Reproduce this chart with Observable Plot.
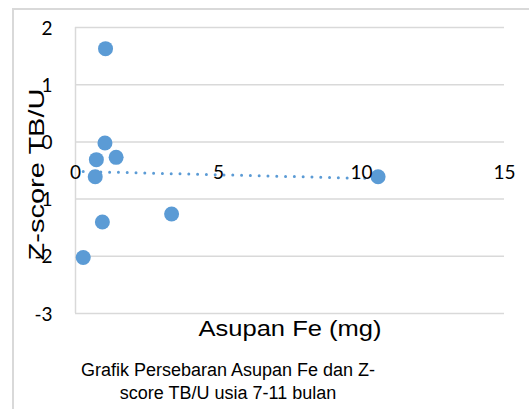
<!DOCTYPE html>
<html><head><meta charset="utf-8">
<script src="https://cdn.jsdelivr.net/npm/d3@7"></script>
<script src="https://cdn.jsdelivr.net/npm/@observablehq/plot@0.6"></script>
<style>
html,body{margin:0;padding:0;background:#fff;}
#wrap{position:relative;width:529px;height:409px;overflow:hidden;background:#fff;}
#frame{position:absolute;left:12px;top:8px;width:600px;height:500px;border:2px solid #d9d9d9;box-sizing:border-box;}
#chart{position:absolute;left:0;top:0;}
#caption{position:absolute;left:28px;top:359px;width:400px;text-align:center;font-family:"Liberation Sans",Arial,sans-serif;font-size:18px;line-height:23px;color:#000;}
</style>
</head><body>
<div id="wrap"><div id="frame"></div><div id="chart"></div><div id="caption"></div></div>
<script>
const xValues = [1.05, 1.03, 0.73, 1.42, 0.69, 0.94, 3.36, 0.27, 10.58];
const yValues = [1.63, -0.02, -0.31, -0.27, -0.61, -1.40, -1.26, -2.02, -0.61];
const xTicks = [0, 5, 10, 15];
const yTicks = [2, 1, 0, -1, -2, -3];
const xAxisCrossesAt = -0.5;
const xLabel = "Asupan Fe (mg)";
const yLabel = "Z-score TB/U";
const captionLines = ["Grafik Persebaran Asupan Fe dan Z-", "score TB/U usia 7-11 bulan"];

const points = xValues.map((x, i) => ({x, y: yValues[i]}));
const blue = "#5B9BD5";
const grid = "#d9d9d9";

const chart = Plot.plot({
  width: 529, height: 360,
  marginLeft: 75, marginRight: 25, marginTop: 27, marginBottom: 47,
  x: {domain: [0, 15], axis: null},
  y: {domain: [-3, 2], axis: null},
  style: {fontFamily: "'Liberation Sans', Arial, sans-serif", background: "transparent", overflow: "visible"},
  marks: [
    Plot.gridY(yTicks, {stroke: grid, strokeOpacity: 1, strokeWidth: 1.5}),
    Plot.ruleX([0], {stroke: grid, strokeWidth: 1.5}),
    Plot.linearRegressionY(points, {x: "x", y: "y", ci: 0, stroke: blue, strokeWidth: 3, strokeDasharray: "0 8.8", strokeLinecap: "round"}),
    Plot.dot(points, {x: "x", y: "y", r: 7.5, fill: blue, stroke: "none"}),
    Plot.text(xTicks, {x: d => d, y: () => xAxisCrossesAt, dy: 2, text: d => String(d), fontSize: 19, fill: "#000", fontFamily: "Lato, sans-serif"}),
    Plot.text(yTicks, {y: d => d, frameAnchor: "left", dx: -23, dy: 1, text: d => String(d), textAnchor: "end", fontSize: 19, fill: "#000", fontFamily: "Lato, sans-serif"}),
    Plot.text([yLabel], {frameAnchor: "left", text: d => d, rotate: -90, textAnchor: "middle", dx: -39, dy: 4, fontSize: 22, fill: "#000"}),
    Plot.text([xLabel], {frameAnchor: "bottom", text: d => d, textAnchor: "middle", dy: 22, fontSize: 22, fill: "#000"})
  ]
});
chart.querySelectorAll("text").forEach(t => {
  if (t.textContent === yLabel) { t.setAttribute("textLength", "172"); t.setAttribute("lengthAdjust", "spacingAndGlyphs"); }
  if (t.textContent === xLabel) { t.setAttribute("textLength", "183"); t.setAttribute("lengthAdjust", "spacingAndGlyphs"); }
});
document.getElementById("chart").appendChild(chart);
document.getElementById("caption").innerHTML = captionLines.map(s => `<div>${s}</div>`).join("");
</script>
</body></html>
